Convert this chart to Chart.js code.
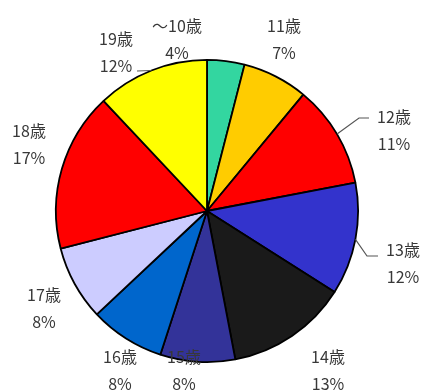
<!DOCTYPE html>
<html>
<head>
<meta charset="utf-8">
<script src="https://cdn.jsdelivr.net/npm/chart.js@4"></script>
<style>
  html, body { margin: 0; padding: 0; background: #fff; }
  #wrap { width: 425px; height: 392px; }
</style>
</head>
<body>
<div id="wrap"><canvas id="pieChart" width="425" height="392"></canvas></div>
<script>
// age groups and their share (%)
const ages = ["～10歳", "11歳", "12歳", "13歳", "14歳", "15歳", "16歳", "17歳", "18歳", "19歳"];
const shares = [4, 7, 11, 12, 13, 8, 8, 8, 17, 12];
const sliceColors = ["#33d6a0", "#ffcc00", "#ff0000", "#3333cc", "#1a1a1a",
                     "#333399", "#0066cc", "#ccccff", "#ff0000", "#ffff00"];

// label centre, offset from pie centre (px)
const labelSpots = [[-30, -172], [77, -172], [187, -81], [196, 52], [121, 159],
                    [-23, 159], [-87, 159], [-163, 97], [-178, -67], [-91, -159]];
// leader lines: extra points after the slice edge, offset from pie centre
const leaders = {
    2: [[152, -93], [162, -93]],
    3: [[160, 45], [171, 45]],
    9: [[-70, -140]]
};

const outsideLabels = {
    id: "outsideLabels",
    afterDraw(chart) {
        const ctx = chart.ctx;
        const arcs = chart.getDatasetMeta(0).data;
        ctx.save();
        ctx.strokeStyle = "#555";
        ctx.lineWidth = 1.2;
        arcs.forEach((arc, i) => {
            const cx = arc.x, cy = arc.y;
            if (leaders[i]) {
                const mid = (arc.startAngle + arc.endAngle) / 2;
                ctx.beginPath();
                ctx.moveTo(cx + Math.cos(mid) * arc.outerRadius, cy + Math.sin(mid) * arc.outerRadius);
                leaders[i].forEach(p => ctx.lineTo(cx + p[0], cy + p[1]));
                ctx.stroke();
            }
            const lx = cx + labelSpots[i][0], ly = cy + labelSpots[i][1];
            ctx.fillStyle = "#383838";
            ctx.font = "16px 'Noto Sans CJK JP', 'Noto Sans', sans-serif";
            ctx.textAlign = "center";
            ctx.textBaseline = "middle";
            ctx.fillText(ages[i], lx, ly - 13);
            ctx.fillText(shares[i] + "%", lx, ly + 14);
        });
        ctx.restore();
    }
};

new Chart(document.getElementById("pieChart").getContext("2d"), {
    type: "pie",
    data: {
        labels: ages,
        datasets: [{
            data: shares,
            backgroundColor: sliceColors,
            borderColor: "#000",
            borderWidth: 1.8,
            hoverOffset: 0
        }]
    },
    options: {
        responsive: false,
        animation: false,
        layout: { padding: { left: 55, right: 66, top: 59, bottom: 29 } },
        plugins: {
            legend: { display: false },
            tooltip: { enabled: false }
        }
    },
    plugins: [outsideLabels]
});
</script>
</body>
</html>
